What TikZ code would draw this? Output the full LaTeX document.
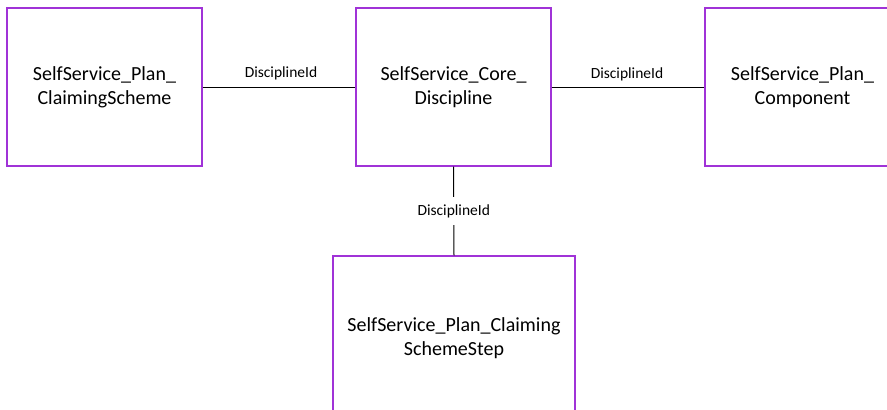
\documentclass[tikz,border=0pt]{standalone}
\usepackage{fontspec}
\setmainfont{Carlito}
\definecolor{boxpurple}{RGB}{160,50,215}
\begin{document}
\begin{tikzpicture}[
  x=1pt, y=-1pt,
  table/.style={draw=boxpurple, line width=1.3pt, rectangle, align=center,
    font=\fontsize{20}{24}\selectfont, inner sep=0pt},
  key/.style={font=\fontsize{15.5}{18}\selectfont, fill=white, inner sep=1pt},
  link/.style={line width=1pt},
]
\useasboundingbox (0,0) rectangle (887,410);
% tables
\node[table, minimum width=195, minimum height=158] (claimscheme) at (104.5,87) {SelfService\_Plan\_\\ClaimingScheme};
\node[table, minimum width=195, minimum height=158] (discipline) at (453.5,87) {SelfService\_Core\_\\Discipline};
\node[table, minimum width=195, minimum height=158] (component) at (802.5,87) {SelfService\_Plan\_\\Component};
\node[table, minimum width=242, minimum height=164] (schemestep) at (454,338) {SelfService\_Plan\_Claiming\\SchemeStep};
% keys
\draw[link] (claimscheme.east) -- (discipline.west);
\node[key] (key1) at (281,73) {DisciplineId};
\draw[link] (discipline.east) -- (component.west);
\node[key] (key2) at (627,74) {DisciplineId};
\draw[link] (discipline.south) -- node[key, inner sep=7pt] (key3) {DisciplineId} (schemestep.north);
\end{tikzpicture}
\end{document}
